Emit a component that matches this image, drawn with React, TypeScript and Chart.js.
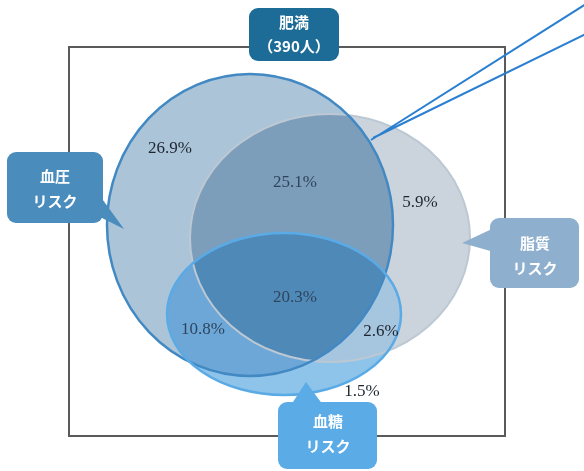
import React, { useEffect, useRef } from "react";
import { Chart, registerables } from "chart.js";

Chart.register(...registerables);

// ---- data ----
const setNames = ["血圧", "脂質", "血糖"];
const setSubtitle = "リスク";
const titleLabel = "肥満";
const titleCount = "（390人）";

// Venn set geometry in chart units (center x/y, radius x/y): blood pressure, lipid, blood sugar
const setCx = [250, 330, 284];
const setCy = [225, 238, 314];
const setRx = [143, 140, 117];
const setRy = [151, 124, 81];

// region shares (%)
const regionValues = [26.9, 25.1, 5.9, 20.3, 10.8, 2.6, 1.5];
// region label anchor points (chart units)
const regionX = [170, 295, 420, 295, 203, 381, 362];
const regionY = [149, 183, 203, 298, 330, 332, 392];

const W = 584;
const H = 471;

type E = { x: number; y: number; rx: number; ry: number };

function path(ctx: CanvasRenderingContext2D, e: E) {
  ctx.beginPath();
  ctx.ellipse(e.x, e.y, e.rx, e.ry, 0, 0, Math.PI * 2);
}

function fillRegion(ctx: CanvasRenderingContext2D, target: E, clips: E[], color: string) {
  ctx.save();
  for (const c of clips) {
    path(ctx, c);
    ctx.clip();
  }
  path(ctx, target);
  ctx.fillStyle = color;
  ctx.fill();
  ctx.restore();
}

function box(
  ctx: CanvasRenderingContext2D,
  x: number, y: number, w: number, h: number, color: string,
  tail?: [number, number][]
) {
  ctx.save();
  ctx.fillStyle = color;
  ctx.beginPath();
  ctx.roundRect(x, y, w, h, 9);
  ctx.fill();
  if (tail) {
    ctx.beginPath();
    ctx.moveTo(tail[0][0], tail[0][1]);
    for (let i = 1; i < tail.length; i++) ctx.lineTo(tail[i][0], tail[i][1]);
    ctx.closePath();
    ctx.fill();
  }
  ctx.restore();
}

function boxText(ctx: CanvasRenderingContext2D, lines: string[], cx: number, ys: number[], size: number) {
  ctx.save();
  ctx.fillStyle = "#ffffff";
  ctx.font = `bold ${size}px "Noto Sans CJK JP", sans-serif`;
  ctx.textAlign = "center";
  ctx.textBaseline = "middle";
  lines.forEach((t, i) => ctx.fillText(t, cx, ys[i]));
  ctx.restore();
}

const vennPlugin = {
  id: "venn",
  beforeDatasetsDraw(chart: any) {
    const ctx: CanvasRenderingContext2D = chart.ctx;
    const xs = chart.scales.x;
    const ys = chart.scales.y;
    const px = (v: number) => xs.getPixelForValue(v);
    const py = (v: number) => ys.getPixelForValue(v);

    // frame
    ctx.save();
    ctx.strokeStyle = "#5a5a5a";
    ctx.lineWidth = 2;
    ctx.strokeRect(px(69), py(47), px(505) - px(69), py(436) - py(47));
    ctx.restore();

    const sets: E[] = setCx.map((cx, i) => ({
      x: px(cx),
      y: py(setCy[i]),
      rx: Math.abs(px(cx + setRx[i]) - px(cx)),
      ry: Math.abs(py(setCy[i] + setRy[i]) - py(setCy[i])),
    }));
    const [bp, lp, su] = sets;

    fillRegion(ctx, bp, [], "#abc4d8");
    fillRegion(ctx, lp, [], "#cbd4dc");
    fillRegion(ctx, lp, [bp], "#7d9ebb");
    fillRegion(ctx, su, [], "#8ec4ea");
    fillRegion(ctx, su, [bp], "#6ca7d8");
    fillRegion(ctx, su, [lp], "#a6c5df");
    fillRegion(ctx, su, [bp, lp], "#4f89b8");

    ctx.save();
    path(ctx, lp);
    ctx.strokeStyle = "#bcc8d3";
    ctx.lineWidth = 2;
    ctx.stroke();
    path(ctx, bp);
    ctx.strokeStyle = "#4289c4";
    ctx.lineWidth = 2.5;
    ctx.stroke();
    path(ctx, su);
    ctx.strokeStyle = "#5aaae6";
    ctx.lineWidth = 2.5;
    ctx.stroke();
    ctx.restore();
  },
  afterDatasetsDraw(chart: any) {
    const ctx: CanvasRenderingContext2D = chart.ctx;
    const xs = chart.scales.x;
    const ys = chart.scales.y;
    const px = (v: number) => xs.getPixelForValue(v);
    const py = (v: number) => ys.getPixelForValue(v);

    // region labels
    const meta = chart.getDatasetMeta(0);
    ctx.save();
    ctx.font = '17px "Liberation Serif", serif';
    ctx.textAlign = "center";
    ctx.textBaseline = "middle";
    meta.data.forEach((pt: any, i: number) => {
      const v = regionValues[i];
      ctx.fillStyle = i === 1 || i === 3 || i === 4 ? "#2f455c" : "#1e2630";
      ctx.fillText(v.toFixed(1) + "%", pt.x, pt.y);
    });
    ctx.restore();

    // pointer lines
    ctx.save();
    ctx.strokeStyle = "#2b7fd0";
    ctx.lineWidth = 2;
    ctx.beginPath();
    ctx.moveTo(px(586), py(4));
    ctx.lineTo(px(371), py(140));
    ctx.moveTo(px(586), py(34));
    ctx.lineTo(px(373), py(138));
    ctx.stroke();
    ctx.restore();

    // title box
    box(ctx, px(249), py(8), px(339) - px(249), py(61) - py(8), "#1d6c97");
    boxText(ctx, [titleLabel, titleCount], px(294), [py(22), py(46)], 15);

    // blood pressure box
    box(ctx, px(7), py(152), px(103) - px(7), py(223) - py(152), "#4a8cbc", [
      [px(100), py(196)],
      [px(124), py(229)],
      [px(100), py(217)],
    ]);
    boxText(ctx, [setNames[0], setSubtitle], px(55), [py(176), py(201)], 15);

    // lipid box
    box(ctx, px(490), py(218), px(579) - px(490), py(288) - py(218), "#8eafcd", [
      [px(494), py(228)],
      [px(462), py(243)],
      [px(494), py(252)],
    ]);
    boxText(ctx, [setNames[1] , setSubtitle], px(535), [py(243), py(268)], 15);

    // blood sugar box
    box(ctx, px(278), py(402), px(377) - px(278), py(469) - py(402), "#5aabe6", [
      [px(291), py(405)],
      [px(306), py(382)],
      [px(323), py(405)],
    ]);
    boxText(ctx, [setNames[2], setSubtitle], px(328), [py(421), py(446)], 15);
  },
};

export default function App() {
  const ref = useRef<HTMLCanvasElement | null>(null);
  useEffect(() => {
    if (!ref.current) return;
    const chart = new Chart(ref.current, {
      type: "scatter",
      data: {
        datasets: [
          {
            label: "regions",
            data: regionX.map((x, i) => ({ x, y: regionY[i] })),
            pointRadius: 0,
            pointHoverRadius: 0,
          },
        ],
      },
      options: {
        animation: false,
        responsive: false,
        events: [],
        layout: { padding: 0 },
        plugins: { legend: { display: false }, tooltip: { enabled: false } },
        scales: {
          x: { type: "linear", min: 0, max: W, display: false },
          y: { type: "linear", min: 0, max: H, reverse: true, display: false },
        },
      },
      plugins: [vennPlugin],
    });
    return () => chart.destroy();
  }, []);
  return (
    <div style={{ position: "absolute", left: 0, top: 0, width: W, height: H, background: "#ffffff" }}>
      <canvas ref={ref} width={W} height={H} style={{ width: W, height: H, display: "block" }} />
    </div>
  );
}
